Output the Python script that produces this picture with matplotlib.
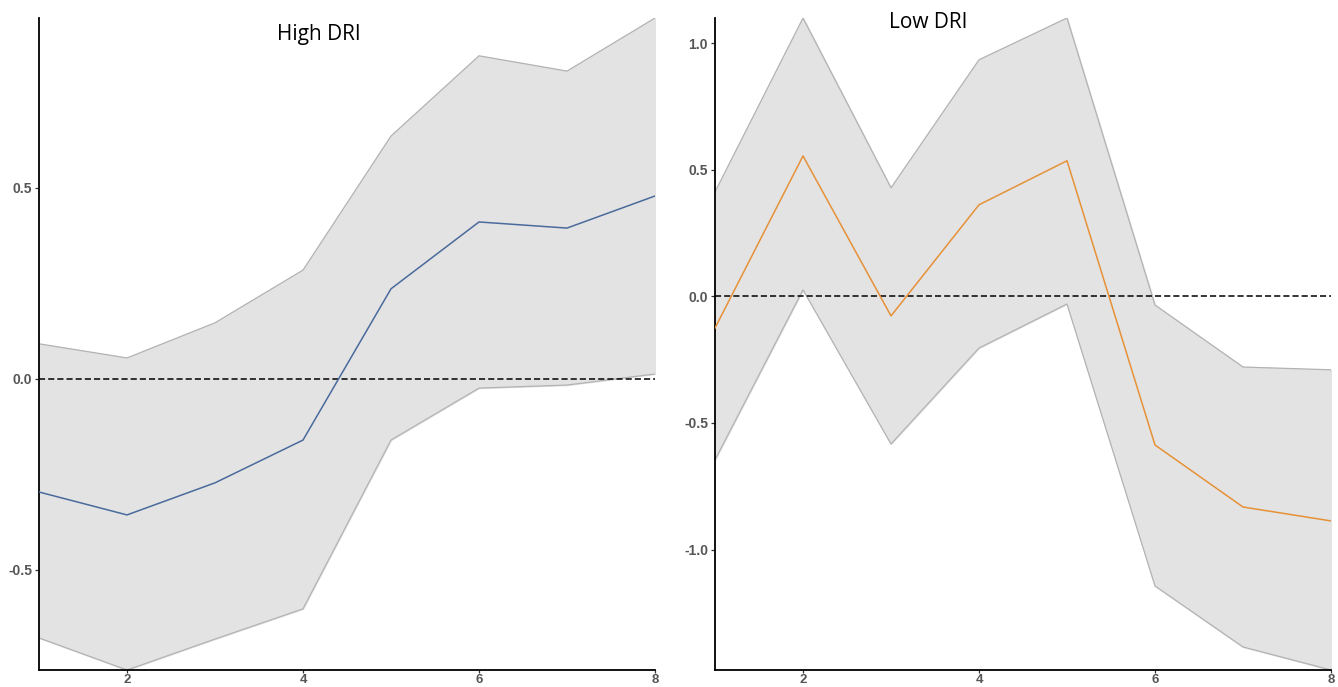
import matplotlib.pyplot as plt
import numpy as np

# horizon
x = [1, 2, 3, 4, 5, 6, 7, 8]

# High DRI response and band
high_mid = [-0.296, -0.356, -0.272, -0.160, 0.236, 0.411, 0.395, 0.479]
high_up = [0.092, 0.055, 0.147, 0.285, 0.636, 0.846, 0.806, 0.945]
high_lo = [-0.678, -0.762, -0.681, -0.602, -0.160, -0.024, -0.016, 0.013]

# Low DRI response and band
low_mid = [-0.125, 0.555, -0.077, 0.362, 0.536, -0.587, -0.832, -0.887]
low_up = [0.413, 1.100, 0.429, 0.935, 1.100, -0.034, -0.279, -0.290]
low_lo = [-0.646, 0.026, -0.583, -0.204, -0.030, -1.144, -1.385, -1.476]

xticks = [2, 4, 6, 8]
high_yticks = [-0.5, 0.0, 0.5]
low_yticks = [-1.0, -0.5, 0.0, 0.5, 1.0]

plt.rcParams['font.family'] = ['Liberation Sans', 'DejaVu Sans']

fig = plt.figure(figsize=(13.38, 6.87), dpi=100)
W, H = 1338, 687
ax1 = fig.add_axes([39 / W, 1 - 670 / H, (655 - 39) / W, (670 - 18) / H])
ax2 = fig.add_axes([715 / W, 1 - 670 / H, (1331 - 715) / W, (670 - 18) / H])


def panel(ax, mid, up, lo, col, yt):
    ax.fill_between(x, lo, up, color='#e3e3e3', zorder=1)
    ax.plot(x, up, color='#b3b3b3', lw=0.9, zorder=2)
    ax.plot(x, lo, color='#b3b3b3', lw=0.9, zorder=2)
    ax.axhline(0, color='black', lw=1.1, ls=(0, (4, 2)), zorder=3)
    ax.plot(x, mid, color=col, lw=1.1, zorder=4)
    ax.set_xlim(1, 8)
    ax.set_ylim(min(lo), max(up))
    ax.set_xticks(xticks)
    ax.set_yticks(yt)
    ax.set_yticklabels(['%.1f' % v for v in yt])
    for s in ['top', 'right']:
        ax.spines[s].set_visible(False)
    for s in ['left', 'bottom']:
        ax.spines[s].set_linewidth(1.3)
        ax.spines[s].set_color('black')
    ax.tick_params(length=3, width=0.9, color='#333333', labelcolor='#555555',
                   labelsize=10, pad=2)
    ax.tick_params(axis='x', length=2.5, pad=0.5, labelsize=9.5)
    for lab in ax.get_xticklabels() + ax.get_yticklabels():
        lab.set_fontweight('bold')


panel(ax1, high_mid, high_up, high_lo, '#4a6a9c', high_yticks)
panel(ax2, low_mid, low_up, low_lo, '#e69138', low_yticks)

fig.text(319 / W, 1 - 40 / H, 'High DRI', ha='center', va='baseline',
         fontsize=15, family=['Open Sans', 'DejaVu Sans'])
fig.text(928 / W, 1 - 28 / H, 'Low DRI', ha='center', va='baseline',
         fontsize=15, family=['Open Sans', 'DejaVu Sans'])

fig.savefig('out.png', dpi=100)
